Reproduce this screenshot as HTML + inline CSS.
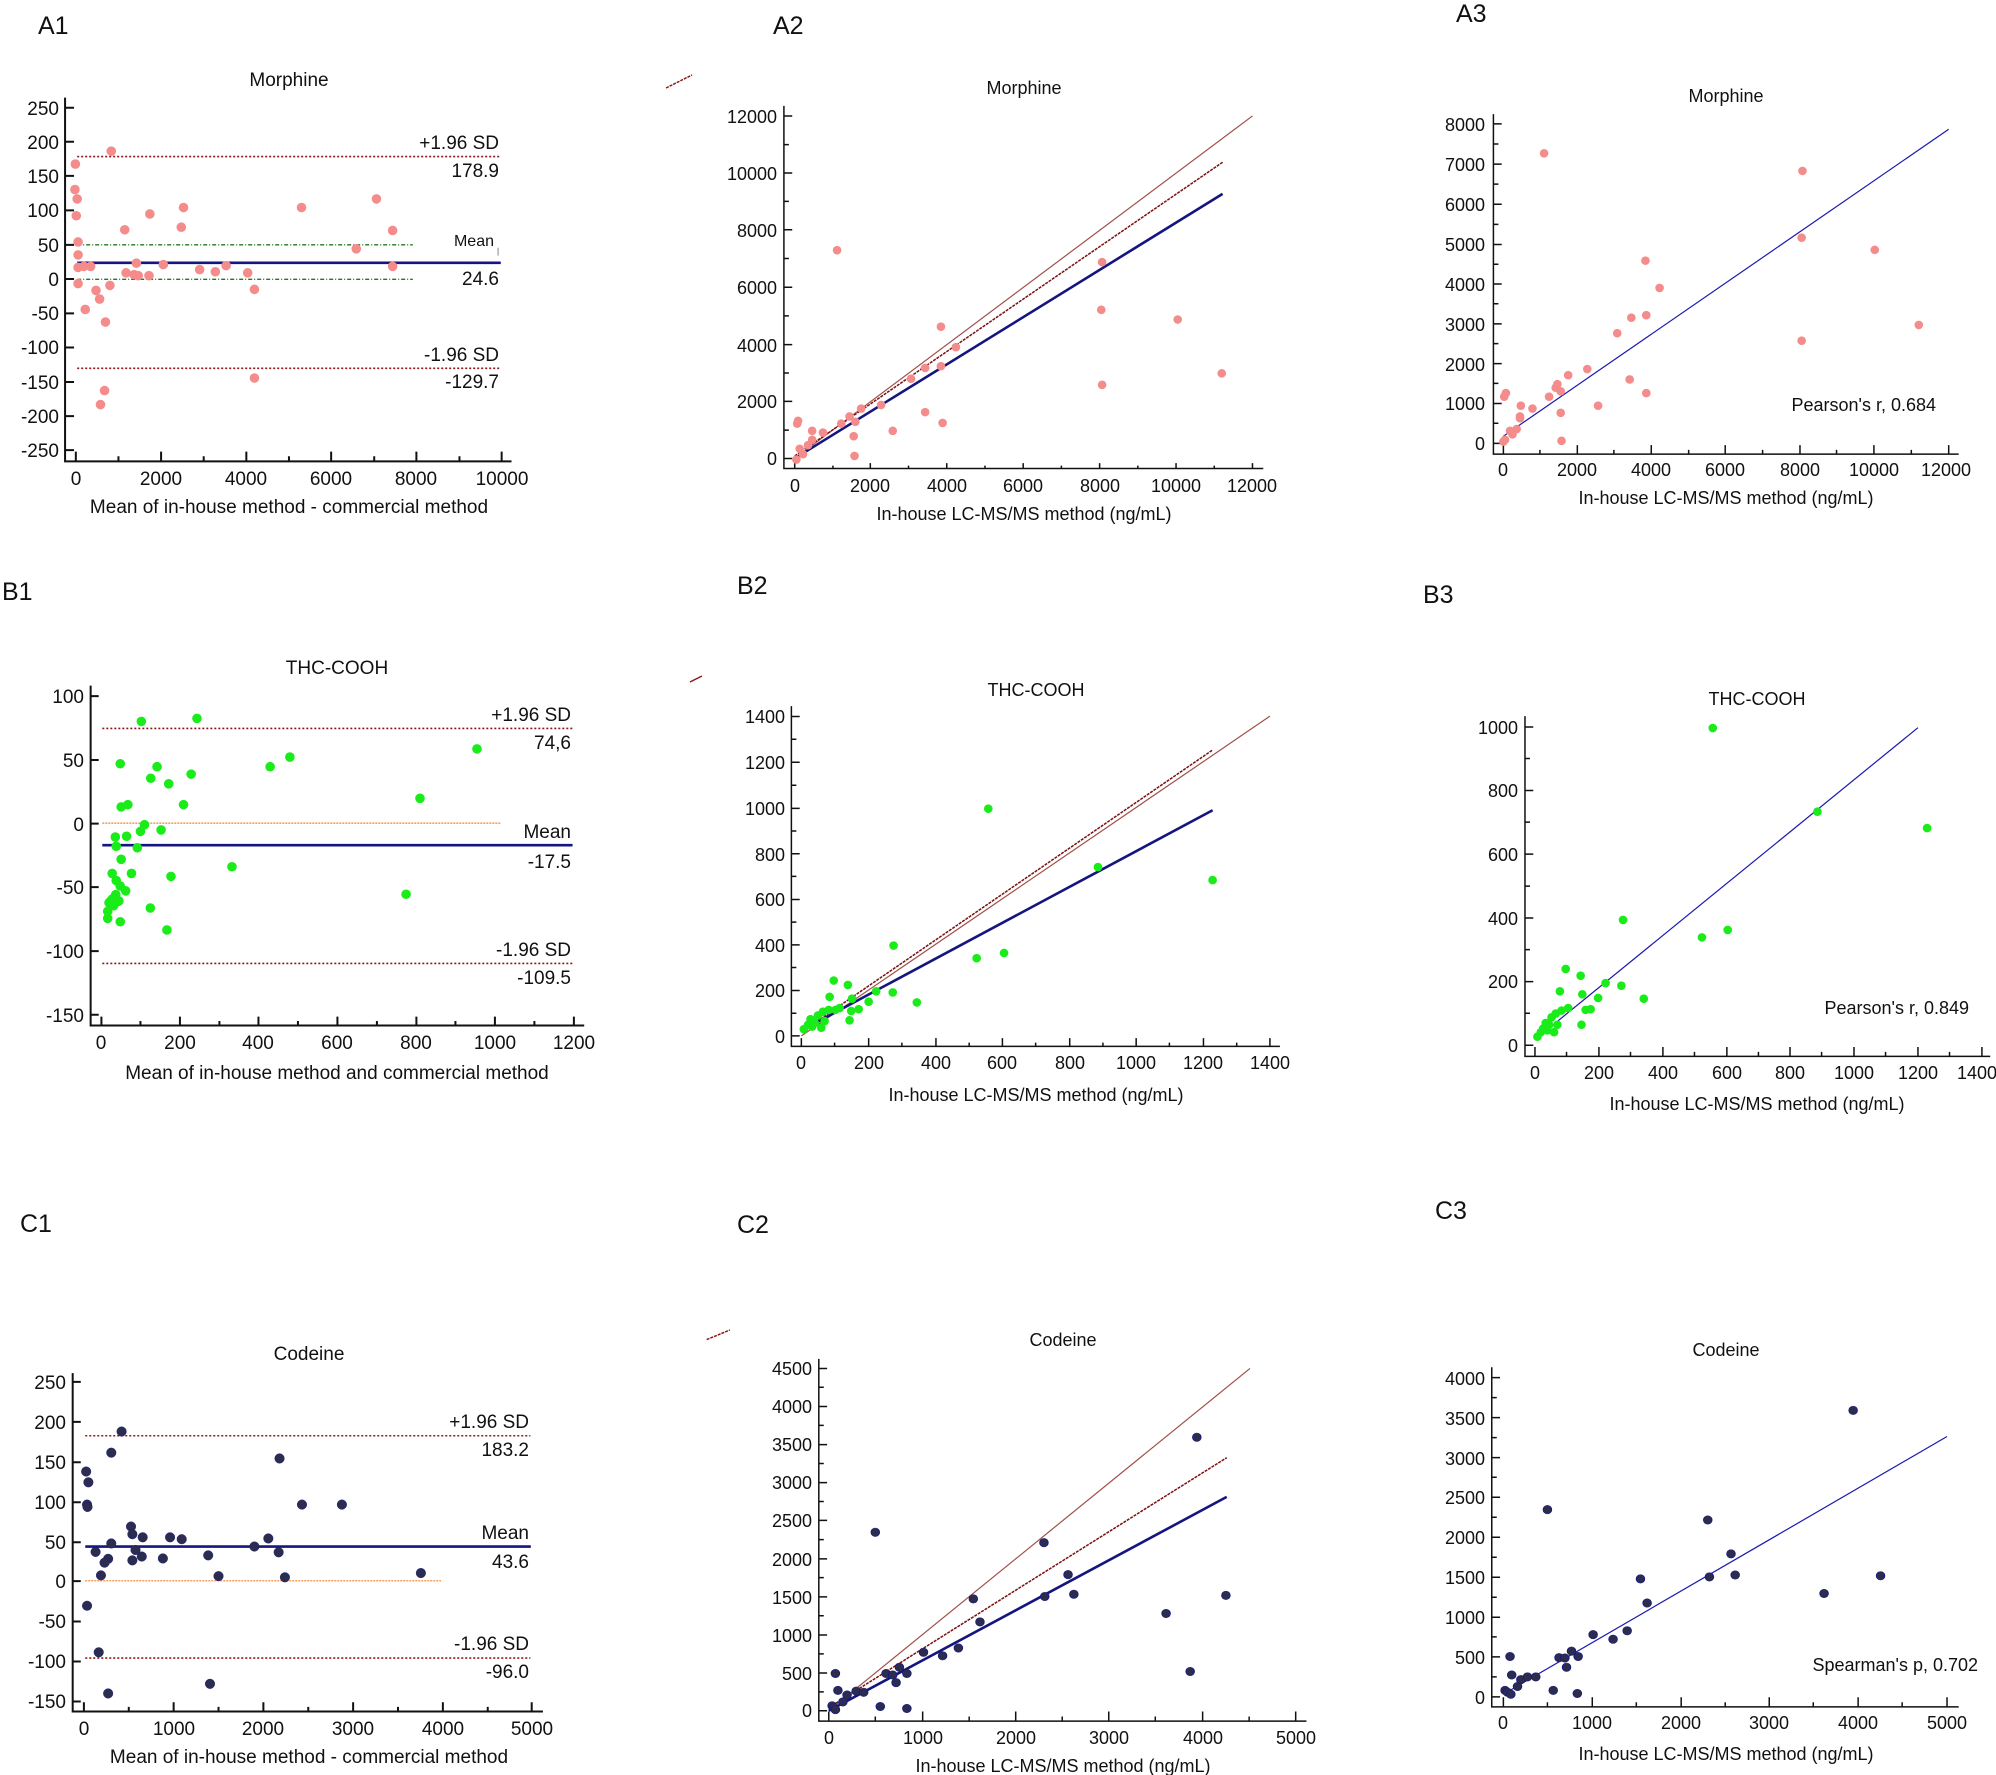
<!DOCTYPE html>
<html><head><meta charset="utf-8"><style>
html,body{margin:0;padding:0;background:#fff;}
svg{display:block;}
text{font-family:"Liberation Sans",Arial,sans-serif;fill:#111;}
.ax{fill:none;stroke:#111;stroke-width:2;vector-effect:non-scaling-stroke;}
.ax1{fill:none;stroke:#111;stroke-width:1.5;vector-effect:non-scaling-stroke;}
.nss{vector-effect:non-scaling-stroke;fill:none;}
.pk{fill:#f58c8c;}
.gr{fill:#19ec19;}
.nv{fill:#2c2d4e;stroke:#14148a;stroke-width:1;vector-effect:non-scaling-stroke;}
.L1 ellipse{rx:10.7px;ry:13.4px;}
.L2 ellipse{rx:5.2px;ry:12px;}
.M1 ellipse{rx:10.7px;ry:12.9px;}
.M2 ellipse{rx:5.2px;ry:11.6px;}
.N1 ellipse{rx:10.7px;ry:12.5px;}
.N2 ellipse{rx:5.2px;ry:11.2px;}
.t{font-size:19px;}
.tc{font-size:18px;}
.lab{font-size:25px;}
</style></head><body>
<svg width="1996" height="1775" viewBox="0 0 1996 1775" xmlns="http://www.w3.org/2000/svg">
<rect width="1996" height="1775" fill="#fff"/>

<!-- ============ A1 ============ -->
<g transform="matrix(0.4487 0 0 0.359 0 0)">
<path class="ax" d="M145 272V1285H1140 M145 300h20M145 395h20M145 490h20M145 586h20M145 682h20M145 777h20M145 873h20M145 968h20M145 1064h20M145 1159h20M145 1254h20 M169 1285v-27M359 1285v-27M549 1285v-27M738 1285v-27M928 1285v-27M1118 1285v-27 M264 1285v-14M454 1285v-14M644 1285v-14M834 1285v-14M1024 1285v-14"/>
<path class="nss" d="M172 436H1116M172 1026H1116" stroke="#8b1a1a" stroke-width="1.6" stroke-dasharray="2 2"/>
<path class="nss" d="M172 682H920M172 778H920" stroke="#1f7a1f" stroke-width="1.4" stroke-dasharray="4 2 1 2"/>
<path class="nss" d="M172 732H1116" stroke="#15157f" stroke-width="2.6"/>
<path class="nss" d="M1110 690v22" stroke="#888" stroke-width="1"/>
<g class="pk L1">
<ellipse cx="168" cy="457"/><ellipse cx="167" cy="528"/><ellipse cx="172" cy="554"/><ellipse cx="170" cy="601"/><ellipse cx="174" cy="674"/><ellipse cx="174" cy="710"/><ellipse cx="174" cy="745"/><ellipse cx="187" cy="742"/><ellipse cx="202" cy="742"/><ellipse cx="174" cy="790"/><ellipse cx="190" cy="862"/><ellipse cx="214" cy="809"/><ellipse cx="222" cy="833"/><ellipse cx="235" cy="897"/><ellipse cx="245" cy="795"/><ellipse cx="248" cy="421"/><ellipse cx="224" cy="1127"/><ellipse cx="233" cy="1088"/><ellipse cx="278" cy="640"/><ellipse cx="281" cy="760"/><ellipse cx="299" cy="765"/><ellipse cx="304" cy="733"/><ellipse cx="308" cy="768"/><ellipse cx="334" cy="596"/><ellipse cx="332" cy="768"/><ellipse cx="364" cy="737"/><ellipse cx="404" cy="633"/><ellipse cx="409" cy="578"/><ellipse cx="445" cy="751"/><ellipse cx="480" cy="757"/><ellipse cx="504" cy="740"/><ellipse cx="552" cy="760"/><ellipse cx="567" cy="806"/><ellipse cx="567" cy="1053"/><ellipse cx="672" cy="578"/><ellipse cx="794" cy="693"/><ellipse cx="839" cy="554"/><ellipse cx="875" cy="642"/><ellipse cx="875" cy="742"/>
</g>
</g>
<path d="M666 88L692 75" stroke="#8b1a1a" stroke-width="1.5" stroke-dasharray="3 1"/>
<text class="lab" x="38" y="34">A1</text>
<text class="t" x="289" y="86" text-anchor="middle">Morphine</text>
<g class="t" text-anchor="end">
<text x="59" y="115">250</text><text x="59" y="149">200</text><text x="59" y="183">150</text><text x="59" y="217">100</text><text x="59" y="252">50</text><text x="59" y="286">0</text><text x="59" y="320">-50</text><text x="59" y="354">-100</text><text x="59" y="389">-150</text><text x="59" y="423">-200</text><text x="59" y="457">-250</text>
<text x="499" y="149">+1.96 SD</text><text x="499" y="177">178.9</text><text x="494" y="246" style="font-size:16px">Mean</text><text x="499" y="285">24.6</text><text x="499" y="361">-1.96 SD</text><text x="499" y="388">-129.7</text>
</g>
<g class="t" text-anchor="middle">
<text x="76" y="485">0</text><text x="161" y="485">2000</text><text x="246" y="485">4000</text><text x="331" y="485">6000</text><text x="416" y="485">8000</text><text x="502" y="485">10000</text>
<text x="289" y="513">Mean of in-house method - commercial method</text>
</g>

<!-- ============ A2 / A3 ============ -->
<g transform="matrix(0.8308 0 0 0.359 700 0)">
<path class="ax1" d="M101 295V1305H678 M101 323h10M101 482h10M101 640h10M101 800h10M101 960h10M101 1118h10M101 1277h10 M101 403h6M101 561h6M101 720h6M101 880h6M101 1039h6M101 1198h6 M114 1305v-15M205 1305v-15M297 1305v-15M389 1305v-15M481 1305v-15M573 1305v-15M665 1305v-15 M160 1305v-8M251 1305v-8M343 1305v-8M435 1305v-8M527 1305v-8M619 1305v-8"/>
<path class="nss" d="M114 1277L665 323" stroke="#a0504a" stroke-width="1.2"/>
<path class="nss" d="M114 1270L629 452" stroke="#7a1010" stroke-width="1.5" stroke-dasharray="3 1"/>
<path class="nss" d="M114 1277L629 540" stroke="#15157f" stroke-width="2.6"/>
<g class="pk L2">
<ellipse cx="117" cy="1180"/><ellipse cx="118" cy="1172"/><ellipse cx="116" cy="1280"/><ellipse cx="120" cy="1250"/><ellipse cx="124" cy="1265"/><ellipse cx="135" cy="1200"/><ellipse cx="135" cy="1225"/><ellipse cx="130" cy="1240"/><ellipse cx="148" cy="1205"/><ellipse cx="165" cy="697"/><ellipse cx="170" cy="1180"/><ellipse cx="180" cy="1160"/><ellipse cx="185" cy="1215"/><ellipse cx="186" cy="1270"/><ellipse cx="187" cy="1175"/><ellipse cx="194" cy="1138"/><ellipse cx="218" cy="1128"/><ellipse cx="232" cy="1200"/><ellipse cx="254" cy="1055"/><ellipse cx="271" cy="1025"/><ellipse cx="271" cy="1148"/><ellipse cx="290" cy="910"/><ellipse cx="290" cy="1020"/><ellipse cx="292" cy="1178"/><ellipse cx="308" cy="967"/><ellipse cx="484" cy="730"/><ellipse cx="483" cy="863"/><ellipse cx="484" cy="1072"/><ellipse cx="575" cy="890"/><ellipse cx="628" cy="1040"/>
</g>
<path class="ax1" d="M955 318V1265H1515 M955 345h10M955 457h10M955 569h10M955 681h10M955 791h10M955 902h10M955 1013h10M955 1124h10M955 1235h10 M955 401h6M955 513h6M955 625h6M955 736h6M955 846h6M955 957h6M955 1068h6M955 1179h6 M967 1265v-25M1056 1265v-25M1145 1265v-25M1234 1265v-25M1324 1265v-25M1413 1265v-25M1503 1265v-25 M1011 1265v-12M1100 1265v-12M1190 1265v-12M1279 1265v-12M1368 1265v-12M1458 1265v-12"/>
<path class="nss" d="M967 1215L1503 360" stroke="#1a1ab0" stroke-width="1.2"/>
<g class="pk L2">
<ellipse cx="967" cy="1230"/><ellipse cx="969" cy="1225"/><ellipse cx="968" cy="1105"/><ellipse cx="970" cy="1095"/><ellipse cx="975" cy="1200"/><ellipse cx="978" cy="1210"/><ellipse cx="983" cy="1195"/><ellipse cx="987" cy="1165"/><ellipse cx="988" cy="1130"/><ellipse cx="987" cy="1160"/><ellipse cx="1002" cy="1138"/><ellipse cx="1016" cy="427"/><ellipse cx="1022" cy="1105"/><ellipse cx="1030" cy="1080"/><ellipse cx="1032" cy="1070"/><ellipse cx="1036" cy="1090"/><ellipse cx="1036" cy="1150"/><ellipse cx="1037" cy="1228"/><ellipse cx="1045" cy="1045"/><ellipse cx="1068" cy="1028"/><ellipse cx="1081" cy="1130"/><ellipse cx="1104" cy="928"/><ellipse cx="1119" cy="1057"/><ellipse cx="1121" cy="885"/><ellipse cx="1138" cy="726"/><ellipse cx="1139" cy="878"/><ellipse cx="1139" cy="1095"/><ellipse cx="1155" cy="802"/><ellipse cx="1326" cy="949"/><ellipse cx="1326" cy="662"/><ellipse cx="1327" cy="476"/><ellipse cx="1414" cy="696"/><ellipse cx="1467" cy="905"/>
</g>
</g>
<text class="lab" x="773" y="34">A2</text>
<text class="tc" x="1024" y="94" text-anchor="middle">Morphine</text>
<g class="tc" text-anchor="end">
<text x="777" y="123">12000</text><text x="777" y="180">10000</text><text x="777" y="237">8000</text><text x="777" y="294">6000</text><text x="777" y="352">4000</text><text x="777" y="408">2000</text><text x="777" y="465">0</text>
</g>
<g class="tc" text-anchor="middle">
<text x="795" y="492">0</text><text x="870" y="492">2000</text><text x="947" y="492">4000</text><text x="1023" y="492">6000</text><text x="1100" y="492">8000</text><text x="1176" y="492">10000</text><text x="1252" y="492">12000</text>
<text x="1024" y="520">In-house LC-MS/MS method (ng/mL)</text>
</g>
<text class="lab" x="1456" y="22">A3</text>
<text class="tc" x="1726" y="102" text-anchor="middle">Morphine</text>
<g class="tc" text-anchor="end">
<text x="1485" y="131">8000</text><text x="1485" y="171">7000</text><text x="1485" y="211">6000</text><text x="1485" y="251">5000</text><text x="1485" y="291">4000</text><text x="1485" y="331">3000</text><text x="1485" y="371">2000</text><text x="1485" y="410">1000</text><text x="1485" y="450">0</text>
<text x="1936" y="411">Pearson's r, 0.684</text>
</g>
<g class="tc" text-anchor="middle">
<text x="1503" y="476">0</text><text x="1577" y="476">2000</text><text x="1651" y="476">4000</text><text x="1725" y="476">6000</text><text x="1800" y="476">8000</text><text x="1874" y="476">10000</text><text x="1946" y="476">12000</text>
<text x="1726" y="504">In-house LC-MS/MS method (ng/mL)</text>
</g>

<!-- ============ B1 ============ -->
<g transform="matrix(0.4487 0 0 0.3718 0 560)">
<path class="ax" d="M202 338V1252H1302 M202 366h18M202 538h18M202 709h18M202 880h18M202 1052h18M202 1223h18 M226 1252v-24M401 1252v-24M576 1252v-24M752 1252v-24M928 1252v-24M1103 1252v-24M1279 1252v-24 M313 1252v-12M489 1252v-12M664 1252v-12M840 1252v-12M1015 1252v-12M1191 1252v-12"/>
<path class="nss" d="M228 453H1276M228 1085H1276" stroke="#8b1a1a" stroke-width="1.6" stroke-dasharray="2 2"/>
<path class="nss" d="M228 708H1117" stroke="#f4a060" stroke-width="1.6" stroke-dasharray="2 1"/>
<path class="nss" d="M228 767H1276" stroke="#15157f" stroke-width="2.6"/>
<g class="gr M1">
<ellipse cx="315" cy="434"/><ellipse cx="439" cy="426"/><ellipse cx="1063" cy="508"/><ellipse cx="268" cy="548"/><ellipse cx="350" cy="556"/><ellipse cx="602" cy="556"/><ellipse cx="646" cy="530"/><ellipse cx="336" cy="587"/><ellipse cx="376" cy="602"/><ellipse cx="426" cy="576"/><ellipse cx="270" cy="664"/><ellipse cx="285" cy="658"/><ellipse cx="409" cy="658"/><ellipse cx="936" cy="641"/><ellipse cx="322" cy="712"/><ellipse cx="313" cy="730"/><ellipse cx="359" cy="726"/><ellipse cx="257" cy="745"/><ellipse cx="282" cy="743"/><ellipse cx="259" cy="770"/><ellipse cx="306" cy="774"/><ellipse cx="270" cy="805"/><ellipse cx="517" cy="825"/><ellipse cx="250" cy="843"/><ellipse cx="293" cy="843"/><ellipse cx="381" cy="851"/><ellipse cx="259" cy="862"/><ellipse cx="268" cy="877"/><ellipse cx="280" cy="890"/><ellipse cx="258" cy="900"/><ellipse cx="250" cy="912"/><ellipse cx="243" cy="922"/><ellipse cx="265" cy="917"/><ellipse cx="253" cy="930"/><ellipse cx="240" cy="945"/><ellipse cx="240" cy="964"/><ellipse cx="268" cy="973"/><ellipse cx="335" cy="936"/><ellipse cx="372" cy="995"/><ellipse cx="905" cy="899"/><ellipse cx="260" cy="920"/><ellipse cx="246" cy="918"/>
</g>
</g>
<path d="M690 682L702 676" stroke="#8b1a1a" stroke-width="1.5"/>
<text class="lab" x="2" y="600">B1</text>
<text class="t" x="337" y="674" text-anchor="middle">THC-COOH</text>
<g class="t" text-anchor="end">
<text x="84" y="703">100</text><text x="84" y="767">50</text><text x="84" y="831">0</text><text x="84" y="894">-50</text><text x="84" y="958">-100</text><text x="84" y="1022">-150</text>
<text x="571" y="721">+1.96 SD</text><text x="571" y="749">74,6</text><text x="571" y="838">Mean</text><text x="571" y="868">-17.5</text><text x="571" y="956">-1.96 SD</text><text x="571" y="984">-109.5</text>
</g>
<g class="t" text-anchor="middle">
<text x="101" y="1049">0</text><text x="180" y="1049">200</text><text x="258" y="1049">400</text><text x="337" y="1049">600</text><text x="416" y="1049">800</text><text x="495" y="1049">1000</text><text x="574" y="1049">1200</text>
<text x="337" y="1079">Mean of in-house method and commercial method</text>
</g>

<!-- ============ B2 / B3 ============ -->
<g transform="matrix(0.8308 0 0 0.3718 700 560)">
<path class="ax1" d="M110 393V1308H698 M110 421h10M110 544h10M110 668h10M110 790h10M110 913h10M110 1035h10M110 1158h10M110 1280h10 M110 482h6M110 606h6M110 729h6M110 851h6M110 974h6M110 1096h6M110 1219h6 M122 1308v-22M203 1308v-22M284 1308v-22M364 1308v-22M445 1308v-22M525 1308v-22M606 1308v-22M686 1308v-22 M162 1308v-10M243 1308v-10M324 1308v-10M404 1308v-10M485 1308v-10M565 1308v-10M646 1308v-10"/>
<path class="nss" d="M122 1280L686 420" stroke="#a0504a" stroke-width="1.2"/>
<path class="nss" d="M125 1265L617 511" stroke="#7a1010" stroke-width="1.5" stroke-dasharray="3 1"/>
<path class="nss" d="M125 1262L617 673" stroke="#15157f" stroke-width="2.6"/>
<g class="gr M2">
<ellipse cx="125" cy="1262"/><ellipse cx="130" cy="1250"/><ellipse cx="133" cy="1235"/><ellipse cx="135" cy="1255"/><ellipse cx="138" cy="1245"/><ellipse cx="142" cy="1225"/><ellipse cx="146" cy="1258"/><ellipse cx="148" cy="1215"/><ellipse cx="150" cy="1240"/><ellipse cx="155" cy="1210"/><ellipse cx="156" cy="1175"/><ellipse cx="161" cy="1131"/><ellipse cx="163" cy="1210"/><ellipse cx="168" cy="1205"/><ellipse cx="178" cy="1143"/><ellipse cx="180" cy="1238"/><ellipse cx="182" cy="1213"/><ellipse cx="183" cy="1180"/><ellipse cx="191" cy="1208"/><ellipse cx="203" cy="1188"/><ellipse cx="212" cy="1160"/><ellipse cx="232" cy="1163"/><ellipse cx="233" cy="1037"/><ellipse cx="261" cy="1190"/><ellipse cx="333" cy="1071"/><ellipse cx="347" cy="669"/><ellipse cx="366" cy="1057"/><ellipse cx="479" cy="826"/><ellipse cx="617" cy="861"/>
</g>
<path class="ax1" d="M993 420V1335H1553 M993 449h10M993 620h10M993 791h10M993 963h10M993 1134h10M993 1305h10 M993 534h6M993 705h6M993 877h6M993 1048h6M993 1219h6 M1005 1335v-25M1082 1335v-25M1159 1335v-25M1236 1335v-25M1312 1335v-25M1389 1335v-25M1466 1335v-25M1543 1335v-25 M1043 1335v-12M1120 1335v-12M1197 1335v-12M1274 1335v-12M1350 1335v-12M1427 1335v-12M1504 1335v-12"/>
<path class="nss" d="M1005 1290L1466 451" stroke="#1a1ab0" stroke-width="1.2"/>
<g class="gr M2">
<ellipse cx="1008" cy="1282"/><ellipse cx="1012" cy="1270"/><ellipse cx="1015" cy="1260"/><ellipse cx="1018" cy="1245"/><ellipse cx="1020" cy="1265"/><ellipse cx="1022" cy="1250"/><ellipse cx="1025" cy="1230"/><ellipse cx="1028" cy="1270"/><ellipse cx="1030" cy="1220"/><ellipse cx="1032" cy="1250"/><ellipse cx="1035" cy="1160"/><ellipse cx="1037" cy="1212"/><ellipse cx="1042" cy="1100"/><ellipse cx="1045" cy="1205"/><ellipse cx="1060" cy="1118"/><ellipse cx="1061" cy="1250"/><ellipse cx="1062" cy="1168"/><ellipse cx="1066" cy="1210"/><ellipse cx="1072" cy="1208"/><ellipse cx="1081" cy="1178"/><ellipse cx="1090" cy="1138"/><ellipse cx="1109" cy="1145"/><ellipse cx="1111" cy="968"/><ellipse cx="1136" cy="1180"/><ellipse cx="1206" cy="1015"/><ellipse cx="1219" cy="452"/><ellipse cx="1237" cy="995"/><ellipse cx="1345" cy="677"/><ellipse cx="1477" cy="721"/>
</g>
</g>
<text class="lab" x="737" y="594">B2</text>
<text class="tc" x="1036" y="696" text-anchor="middle">THC-COOH</text>
<g class="tc" text-anchor="end">
<text x="785" y="723">1400</text><text x="785" y="769">1200</text><text x="785" y="815">1000</text><text x="785" y="861">800</text><text x="785" y="906">600</text><text x="785" y="952">400</text><text x="785" y="997">200</text><text x="785" y="1043">0</text>
</g>
<g class="tc" text-anchor="middle">
<text x="801" y="1069">0</text><text x="869" y="1069">200</text><text x="936" y="1069">400</text><text x="1002" y="1069">600</text><text x="1070" y="1069">800</text><text x="1136" y="1069">1000</text><text x="1203" y="1069">1200</text><text x="1270" y="1069">1400</text>
<text x="1036" y="1101">In-house LC-MS/MS method (ng/mL)</text>
</g>
<text class="lab" x="1423" y="603">B3</text>
<text class="tc" x="1757" y="705" text-anchor="middle">THC-COOH</text>
<g class="tc" text-anchor="end">
<text x="1518" y="734">1000</text><text x="1518" y="797">800</text><text x="1518" y="861">600</text><text x="1518" y="925">400</text><text x="1518" y="988">200</text><text x="1518" y="1052">0</text>
<text x="1969" y="1014">Pearson's r, 0.849</text>
</g>
<g class="tc" text-anchor="middle">
<text x="1535" y="1079">0</text><text x="1599" y="1079">200</text><text x="1663" y="1079">400</text><text x="1727" y="1079">600</text><text x="1790" y="1079">800</text><text x="1854" y="1079">1000</text><text x="1918" y="1079">1200</text><text x="1977" y="1079">1400</text>
<text x="1757" y="1110">In-house LC-MS/MS method (ng/mL)</text>
</g>

<!-- ============ C1 ============ -->
<g transform="matrix(0.4487 0 0 0.3846 0 1175)">
<path class="ax" d="M162 515V1395H1210 M162 538h18M162 642h18M162 747h18M162 851h18M162 955h18M162 1056h18M162 1161h18M162 1265h18M162 1369h18 M187 1395v-24M387 1395v-24M587 1395v-24M787 1395v-24M987 1395v-24M1185 1395v-24 M287 1395v-12M487 1395v-12M687 1395v-12M887 1395v-12M1087 1395v-12"/>
<path class="nss" d="M190 678H1182M190 1256H1182" stroke="#8b1a1a" stroke-width="1.6" stroke-dasharray="2 2"/>
<path class="nss" d="M190 1055H983" stroke="#f4a060" stroke-width="1.6" stroke-dasharray="2 1"/>
<path class="nss" d="M190 966H1183" stroke="#15157f" stroke-width="2.6"/>
<g class="nv N1">
<ellipse cx="271" cy="667"/><ellipse cx="248" cy="722"/><ellipse cx="192" cy="771"/><ellipse cx="197" cy="799"/><ellipse cx="194" cy="857"/><ellipse cx="195" cy="863"/><ellipse cx="292" cy="914"/><ellipse cx="295" cy="934"/><ellipse cx="318" cy="942"/><ellipse cx="248" cy="958"/><ellipse cx="379" cy="942"/><ellipse cx="405" cy="947"/><ellipse cx="213" cy="980"/><ellipse cx="241" cy="998"/><ellipse cx="233" cy="1008"/><ellipse cx="295" cy="1002"/><ellipse cx="302" cy="975"/><ellipse cx="316" cy="992"/><ellipse cx="363" cy="997"/><ellipse cx="225" cy="1041"/><ellipse cx="464" cy="989"/><ellipse cx="487" cy="1043"/><ellipse cx="567" cy="966"/><ellipse cx="598" cy="945"/><ellipse cx="621" cy="981"/><ellipse cx="623" cy="737"/><ellipse cx="635" cy="1046"/><ellipse cx="673" cy="857"/><ellipse cx="762" cy="857"/><ellipse cx="938" cy="1035"/><ellipse cx="194" cy="1120"/><ellipse cx="220" cy="1241"/><ellipse cx="241" cy="1348"/><ellipse cx="468" cy="1323"/>
</g>
</g>
<text class="lab" x="20" y="1232">C1</text>
<text class="t" x="309" y="1360" text-anchor="middle">Codeine</text>
<g class="t" text-anchor="end">
<text x="66" y="1389">250</text><text x="66" y="1429">200</text><text x="66" y="1469">150</text><text x="66" y="1509">100</text><text x="66" y="1549">50</text><text x="66" y="1588">0</text><text x="66" y="1628">-50</text><text x="66" y="1668">-100</text><text x="66" y="1708">-150</text>
<text x="529" y="1428">+1.96 SD</text><text x="529" y="1456">183.2</text><text x="529" y="1539">Mean</text><text x="529" y="1568">43.6</text><text x="529" y="1650">-1.96 SD</text><text x="529" y="1678">-96.0</text>
</g>
<g class="t" text-anchor="middle">
<text x="84" y="1735">0</text><text x="174" y="1735">1000</text><text x="263" y="1735">2000</text><text x="353" y="1735">3000</text><text x="443" y="1735">4000</text><text x="532" y="1735">5000</text>
<text x="309" y="1763">Mean of in-house method - commercial method</text>
</g>

<!-- ============ C2 / C3 ============ -->
<g transform="matrix(0.8308 0 0 0.3846 700 1175)">
<path class="ax1" d="M143 478V1420H730 M143 503h10M143 602h10M143 701h10M143 800h10M143 898h10M143 998h10M143 1097h10M143 1196h10M143 1295h10M143 1393h10 M143 552h6M143 651h6M143 750h6M143 849h6M143 948h6M143 1047h6M143 1146h6M143 1245h6M143 1344h6 M155 1420v-25M268 1420v-25M380 1420v-25M492 1420v-25M605 1420v-25M717 1420v-25 M211 1420v-12M324 1420v-12M436 1420v-12M548 1420v-12M661 1420v-12"/>
<path class="nss" d="M155 1393L662 503" stroke="#a0504a" stroke-width="1.2"/>
<path class="nss" d="M155 1385L634 735" stroke="#7a1010" stroke-width="1.5" stroke-dasharray="3 1"/>
<path class="nss" d="M155 1393L634 837" stroke="#15157f" stroke-width="2.6"/>
<path class="nss" d="M8 428L36 403" stroke="#8b1a1a" stroke-width="1.5" stroke-dasharray="3 1"/>
<g class="nv N2">
<ellipse cx="159" cy="1380"/><ellipse cx="161" cy="1385"/><ellipse cx="163" cy="1296"/><ellipse cx="166" cy="1340"/><ellipse cx="163" cy="1390"/><ellipse cx="172" cy="1370"/><ellipse cx="177" cy="1352"/><ellipse cx="188" cy="1342"/><ellipse cx="197" cy="1345"/><ellipse cx="211" cy="929"/><ellipse cx="217" cy="1382"/><ellipse cx="224" cy="1296"/><ellipse cx="232" cy="1300"/><ellipse cx="236" cy="1320"/><ellipse cx="240" cy="1280"/><ellipse cx="249" cy="1296"/><ellipse cx="249" cy="1387"/><ellipse cx="269" cy="1241"/><ellipse cx="292" cy="1250"/><ellipse cx="311" cy="1230"/><ellipse cx="329" cy="1102"/><ellipse cx="337" cy="1162"/><ellipse cx="414" cy="956"/><ellipse cx="415" cy="1096"/><ellipse cx="443" cy="1039"/><ellipse cx="450" cy="1090"/><ellipse cx="561" cy="1140"/><ellipse cx="590" cy="1291"/><ellipse cx="598" cy="682"/><ellipse cx="633" cy="1093"/>
</g>
<path class="ax1" d="M953 500V1383H1515 M953 527h10M953 631h10M953 735h10M953 838h10M953 942h10M953 1046h10M953 1150h10M953 1253h10M953 1357h10 M953 579h6M953 683h6M953 786h6M953 890h6M953 994h6M953 1098h6M953 1201h6M953 1305h6 M967 1383v-25M1074 1383v-25M1181 1383v-25M1287 1383v-25M1394 1383v-25M1501 1383v-25 M1020 1383v-12M1127 1383v-12M1234 1383v-12M1340 1383v-12M1447 1383v-12"/>
<path class="nss" d="M967 1350L1501 680" stroke="#1a1ab0" stroke-width="1.2"/>
<g class="nv N2">
<ellipse cx="969" cy="1340"/><ellipse cx="972" cy="1345"/><ellipse cx="975" cy="1252"/><ellipse cx="977" cy="1300"/><ellipse cx="976" cy="1350"/><ellipse cx="984" cy="1330"/><ellipse cx="988" cy="1312"/><ellipse cx="996" cy="1305"/><ellipse cx="1006" cy="1305"/><ellipse cx="1020" cy="870"/><ellipse cx="1027" cy="1340"/><ellipse cx="1034" cy="1255"/><ellipse cx="1041" cy="1256"/><ellipse cx="1043" cy="1280"/><ellipse cx="1049" cy="1238"/><ellipse cx="1057" cy="1252"/><ellipse cx="1056" cy="1348"/><ellipse cx="1075" cy="1195"/><ellipse cx="1099" cy="1207"/><ellipse cx="1116" cy="1185"/><ellipse cx="1132" cy="1050"/><ellipse cx="1140" cy="1113"/><ellipse cx="1213" cy="897"/><ellipse cx="1215" cy="1045"/><ellipse cx="1241" cy="985"/><ellipse cx="1246" cy="1040"/><ellipse cx="1353" cy="1088"/><ellipse cx="1388" cy="612"/><ellipse cx="1421" cy="1042"/>
</g>
</g>
<text class="lab" x="737" y="1233">C2</text>
<text class="tc" x="1063" y="1346" text-anchor="middle">Codeine</text>
<g class="tc" text-anchor="end">
<text x="812" y="1375">4500</text><text x="812" y="1413">4000</text><text x="812" y="1451">3500</text><text x="812" y="1489">3000</text><text x="812" y="1527">2500</text><text x="812" y="1566">2000</text><text x="812" y="1604">1500</text><text x="812" y="1642">1000</text><text x="812" y="1680">500</text><text x="812" y="1717">0</text>
</g>
<g class="tc" text-anchor="middle">
<text x="829" y="1744">0</text><text x="923" y="1744">1000</text><text x="1016" y="1744">2000</text><text x="1109" y="1744">3000</text><text x="1203" y="1744">4000</text><text x="1296" y="1744">5000</text>
<text x="1063" y="1772">In-house LC-MS/MS method (ng/mL)</text>
</g>
<text class="lab" x="1435" y="1219">C3</text>
<text class="tc" x="1726" y="1356" text-anchor="middle">Codeine</text>
<g class="tc" text-anchor="end">
<text x="1485" y="1385">4000</text><text x="1485" y="1425">3500</text><text x="1485" y="1465">3000</text><text x="1485" y="1504">2500</text><text x="1485" y="1544">2000</text><text x="1485" y="1584">1500</text><text x="1485" y="1624">1000</text><text x="1485" y="1664">500</text><text x="1485" y="1704">0</text>
<text x="1978" y="1671">Spearman's p, 0.702</text>
</g>
<g class="tc" text-anchor="middle">
<text x="1503" y="1729">0</text><text x="1592" y="1729">1000</text><text x="1681" y="1729">2000</text><text x="1769" y="1729">3000</text><text x="1858" y="1729">4000</text><text x="1947" y="1729">5000</text>
<text x="1726" y="1760">In-house LC-MS/MS method (ng/mL)</text>
</g>
</svg>
</body></html>
